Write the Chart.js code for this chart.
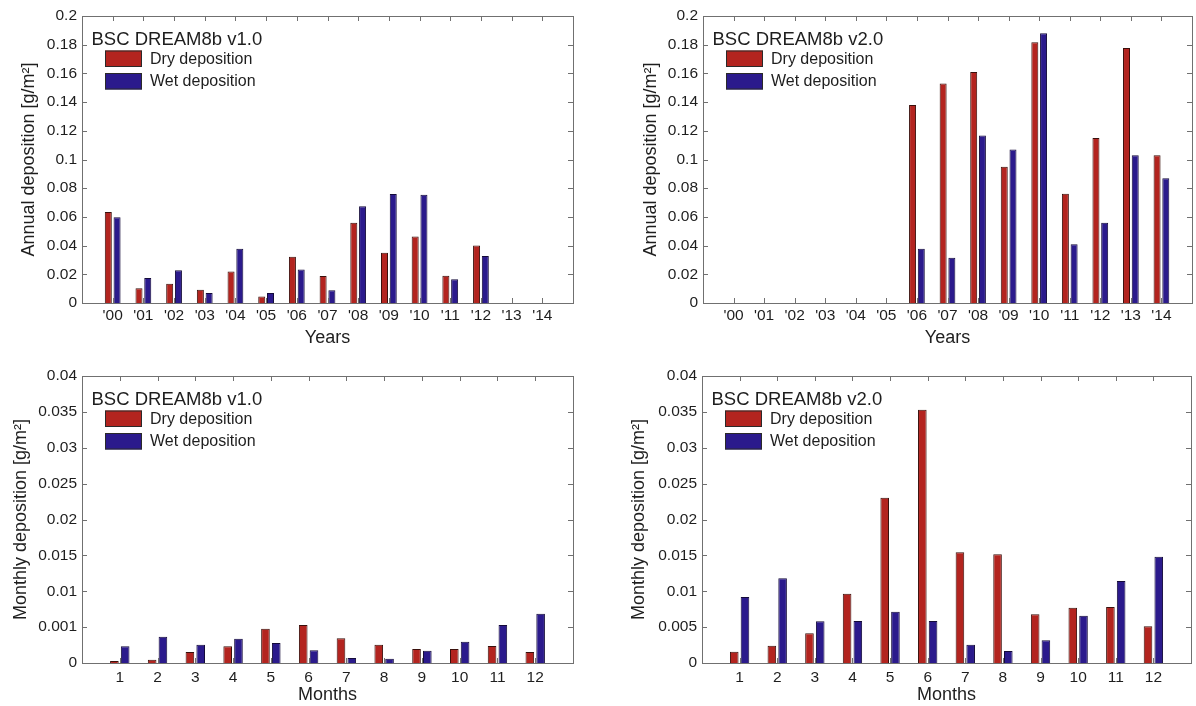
<!DOCTYPE html>
<html>
<head>
<meta charset="utf-8">
<script src="https://cdn.jsdelivr.net/npm/chart.js@4.4.1/dist/chart.umd.min.js"></script>
<style>
  html, body { margin: 0; padding: 0; background: #ffffff; }
  body { width: 1196px; height: 706px; position: relative; overflow: hidden; }
  .panel { position: absolute; }
</style>
</head>
<body>
<div class="panel" style="left:0px;top:0px;"><canvas id="c1" width="598" height="353"></canvas></div>
<div class="panel" style="left:598px;top:0px;"><canvas id="c2" width="598" height="353"></canvas></div>
<div class="panel" style="left:0px;top:353px;"><canvas id="c3" width="598" height="353"></canvas></div>
<div class="panel" style="left:598px;top:353px;"><canvas id="c4" width="598" height="353"></canvas></div>
<script>
// ---------------- DATA ----------------
const years = ["'00","'01","'02","'03","'04","'05","'06","'07","'08","'09","'10","'11","'12","'13","'14"];
const months = ["1","2","3","4","5","6","7","8","9","10","11","12"];

const annualTicks = ["0","0.02","0.04","0.06","0.08","0.1","0.12","0.14","0.16","0.18","0.2"];
const monthlyTicksV1 = ["0","0.001","0.01","0.015","0.02","0.025","0.03","0.035","0.04"];
const monthlyTicksV2 = ["0","0.005","0.01","0.015","0.02","0.025","0.03","0.035","0.04"];

const annualDryV1 = [0.0635, 0.0102, 0.0134, 0.0093, 0.0220, 0.0046, 0.0322, 0.0188, 0.0559, 0.0350, 0.0464, 0.0190, 0.0400, null, null];
const annualWetV1 = [0.0598, 0.0174, 0.0229, 0.0070, 0.0378, 0.0070, 0.0234, 0.0088, 0.0674, 0.0760, 0.0755, 0.0165, 0.0327, null, null];
const annualDryV2 = [null, null, null, null, null, null, 0.1380, 0.1530, 0.1610, 0.0950, 0.1817, 0.0762, 0.1150, 0.1777, 0.1030];
const annualWetV2 = [null, null, null, null, null, null, 0.0378, 0.0315, 0.1168, 0.1070, 0.1880, 0.0410, 0.0559, 0.1030, 0.0869];

const monthlyDryV1 = [0.00028, 0.00046, 0.00153, 0.00232, 0.00479, 0.00530, 0.00344, 0.00256, 0.00195, 0.00195, 0.00237, 0.00153];
const monthlyWetV1 = [0.00232, 0.00367, 0.00256, 0.00339, 0.00279, 0.00177, 0.00070, 0.00060, 0.00172, 0.00297, 0.00530, 0.00688];
const monthlyDryV2 = [0.00158, 0.00242, 0.00413, 0.00966, 0.02304, 0.03530, 0.01542, 0.01514, 0.00678, 0.00771, 0.00780, 0.00511];
const monthlyWetV2 = [0.00920, 0.01180, 0.00581, 0.00585, 0.00715, 0.00585, 0.00256, 0.00167, 0.00316, 0.00660, 0.01143, 0.01482];

// ---------------- STYLE ----------------
const FONT = '"Liberation Sans", Arial, Helvetica, sans-serif';
const TEXT = '#1e1e1e';
const FRAME = '#707070';
const DRY = '#b3241f';
const WET = '#2b1a8c';

// frame + inward tick marks, drawn from the library's scales
const framePlugin = {
  id: 'matlabFrame',
  afterDatasetsDraw(chart) {
    const {ctx, chartArea: a} = chart;
    const xs = chart.scales.x, ys = chart.scales.y;
    const L = 5;
    ctx.save();
    ctx.strokeStyle = FRAME;
    ctx.lineWidth = 1;
    ctx.beginPath();
    for (let i = 1; i < xs.ticks.length - 1; i++) {
      const px = Math.round(xs.getPixelForTick(i)) + 0.5;
      ctx.moveTo(px, a.bottom); ctx.lineTo(px, a.bottom - L);
      ctx.moveTo(px, a.top); ctx.lineTo(px, a.top + L);
    }
    for (let i = 0; i < ys.ticks.length; i++) {
      const py = Math.round(ys.getPixelForTick(i)) + 0.5;
      ctx.moveTo(a.left, py); ctx.lineTo(a.left + L, py);
      ctx.moveTo(a.right, py); ctx.lineTo(a.right - L, py);
    }
    ctx.stroke();
    ctx.strokeRect(Math.round(a.left) + 0.5, Math.round(a.top) + 0.5,
                   Math.round(a.right - a.left), Math.round(a.bottom - a.top));
    ctx.restore();
  }
};

// inset legend with title, matching the MATLAB legend box layout
const insetLegend = {
  id: 'insetLegend',
  afterDraw(chart, args, opts) {
    const {ctx, chartArea: a} = chart;
    ctx.save();
    ctx.fillStyle = TEXT;
    ctx.textAlign = 'left';
    ctx.textBaseline = 'alphabetic';
    ctx.font = '18.5px ' + FONT;
    ctx.fillText(opts.title, a.left + 9.5, a.top + 28.5);
    chart.data.datasets.forEach((ds, i) => {
      const y = a.top + 34.5 + i * 22.5;
      ctx.fillStyle = ds.backgroundColor;
      ctx.fillRect(a.left + 23, y, 37, 16.5);
      ctx.strokeStyle = '#2a2a2a';
      ctx.lineWidth = 1;
      ctx.strokeRect(a.left + 23.5, y + 0.5, 36, 15.5);
      ctx.fillStyle = TEXT;
      ctx.font = '16px ' + FONT;
      ctx.textBaseline = 'middle';
      ctx.fillText(ds.label, a.left + 68, y + 9);
      ctx.textBaseline = 'alphabetic';
    });
    ctx.restore();
  }
};

function pad(arr) { return [null].concat(arr, [null]); }

function makeChart(id, cfg) {
  const labels = [''].concat(cfg.categories, ['']);
  return new Chart(document.getElementById(id), {
    type: 'bar',
    data: {
      labels: labels,
      datasets: [
        { label: 'Dry deposition', data: pad(cfg.dry), backgroundColor: DRY,
          borderColor: '#3a100c', borderWidth: 1, inflateAmount: 0,
          categoryPercentage: 0.571, barPercentage: 0.8 },
        { label: 'Wet deposition', data: pad(cfg.wet), backgroundColor: WET,
          borderColor: '#140b3a', borderWidth: 1, inflateAmount: 0,
          categoryPercentage: 0.571, barPercentage: 0.8 }
      ]
    },
    options: {
      responsive: false,
      animation: false,
      devicePixelRatio: 1,
      layout: { padding: { left: 0, right: cfg.padRight, top: cfg.padTop, bottom: 0 } },
      plugins: {
        legend: { display: false },
        tooltip: { enabled: false },
        insetLegend: { title: cfg.title }
      },
      scales: {
        x: {
          type: 'category',
          offset: false,
          grid: { display: false, drawTicks: false },
          border: { display: false },
          ticks: { color: TEXT, font: { family: FONT, size: 15.5 }, padding: cfg.xTickPad,
                   autoSkip: false, maxRotation: 0, minRotation: 0 },
          title: { display: true, text: cfg.xTitle, color: TEXT,
                   font: { family: FONT, size: 18 }, padding: { top: 0, bottom: cfg.xTitlePad } },
          afterFit: (s) => { s.height = cfg.xAxisH; }
        },
        y: {
          min: 0, max: cfg.yMax,
          grid: { display: false, drawTicks: false },
          border: { display: false },
          ticks: { stepSize: cfg.yStep, color: TEXT, font: { family: FONT, size: 15.5 }, padding: 5,
                   callback: (v, i) => cfg.yTicks[i] },
          title: { display: true, text: cfg.yTitle, color: TEXT,
                   font: { family: FONT, size: 18 }, padding: { top: cfg.yTitlePad, bottom: 0 } },
          afterFit: (s) => { s.width = cfg.yAxisW; }
        }
      }
    },
    plugins: [framePlugin, insetLegend]
  });
}

makeChart('c1', { categories: years, dry: annualDryV1, wet: annualWetV1, title: 'BSC DREAM8b v1.0',
  yTicks: annualTicks, yMax: 0.2, yStep: 0.02, xTitle: 'Years', yTitle: 'Annual deposition [g/m²]',
  yAxisW: 82, padRight: 25, padTop: 16, xAxisH: 50, yTitlePad: 18, xTitlePad: 4, xTickPad: 3 });
makeChart('c2', { categories: years, dry: annualDryV2, wet: annualWetV2, title: 'BSC DREAM8b v2.0',
  yTicks: annualTicks, yMax: 0.2, yStep: 0.02, xTitle: 'Years', yTitle: 'Annual deposition [g/m²]',
  yAxisW: 105, padRight: 4, padTop: 16, xAxisH: 50, yTitlePad: 42, xTitlePad: 4, xTickPad: 3 });
makeChart('c3', { categories: months, dry: monthlyDryV1, wet: monthlyWetV1, title: 'BSC DREAM8b v1.0',
  yTicks: monthlyTicksV1, yMax: 0.04, yStep: 0.005, xTitle: 'Months', yTitle: 'Monthly deposition [g/m²]',
  yAxisW: 82, padRight: 25, padTop: 23, xAxisH: 43, yTitlePad: 10, xTitlePad: 0.5, xTickPad: 5 });
makeChart('c4', { categories: months, dry: monthlyDryV2, wet: monthlyWetV2, title: 'BSC DREAM8b v2.0',
  yTicks: monthlyTicksV2, yMax: 0.04, yStep: 0.005, xTitle: 'Months', yTitle: 'Monthly deposition [g/m²]',
  yAxisW: 104, padRight: 4, padTop: 23, xAxisH: 43, yTitlePad: 30, xTitlePad: 0.5, xTickPad: 5 });
</script>
</body>
</html>
